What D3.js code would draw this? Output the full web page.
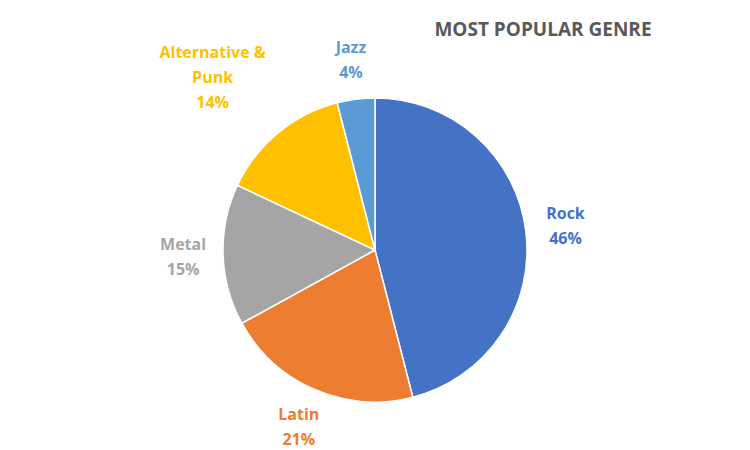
<!DOCTYPE html>
<html><head><meta charset="utf-8">
<script src="https://cdn.jsdelivr.net/npm/d3@7"></script>
<style>body{margin:0;background:#fff}</style>
</head><body>
<svg class="chart" width="750" height="450"></svg>
<script>
var genres = ["Rock", "Latin", "Metal", "Alternative & Punk", "Jazz"];
var shares = [46, 21, 15, 14, 4];
var colors = ["#4472c4", "#ed7d31", "#a5a5a5", "#ffc000", "#5b9bd5"];
var labelLines = [["Rock"], ["Latin"], ["Metal"], ["Alternative &", "Punk"], ["Jazz"]];

var width = 750, height = 450,
    cx = 375, cy = 250, radius = 152;

var svg = d3.select(".chart");

svg.append("text")
    .attr("x", 543).attr("y", 36)
    .attr("text-anchor", "middle")
    .style("font-family", "'Open Sans', sans-serif")
    .style("font-weight", "bold")
    .style("font-size", "19px")
    .attr("fill", "#595959")
    .text("MOST POPULAR GENRE");

var data = genres.map(function(g, i) { return {genre: g, value: shares[i], i: i}; });

var pie = d3.pie().sort(null).value(function(d) { return d.value; });
var arc = d3.arc().innerRadius(0).outerRadius(radius);
var labelArc = d3.arc().innerRadius(192).outerRadius(192);

var g = svg.append("g").attr("transform", "translate(" + cx + "," + cy + ")");

g.selectAll(".slice")
    .data(pie(data))
  .enter().append("path")
    .attr("class", "slice")
    .attr("d", arc)
    .attr("fill", function(d) { return colors[d.data.i]; })
    .attr("stroke", "#fff")
    .attr("stroke-width", 1.5);

var labels = g.selectAll(".lbl")
    .data(pie(data))
  .enter().append("text")
    .attr("class", "lbl")
    .attr("text-anchor", "middle")
    .style("font-family", "'Open Sans', sans-serif")
    .style("font-weight", "bold")
    .style("font-size", "16px")
    .attr("fill", function(d) { return colors[d.data.i]; })
    .attr("transform", function(d) {
      var c = labelArc.centroid(d);
      if (d.data.i == 3) { c[0] -= 40; c[1] -= 25; }
      return "translate(" + c[0] + "," + c[1] + ")";
    });

labels.each(function(d) {
  var lines = labelLines[d.data.i].concat([d.data.value + "%"]);
  var t = d3.select(this);
  var start = -(lines.length - 1) * 25 / 2 + 6;
  lines.forEach(function(l, k) {
    t.append("tspan").attr("x", 0).attr("y", start + k * 25).text(l);
  });
});
</script>
</body></html>
